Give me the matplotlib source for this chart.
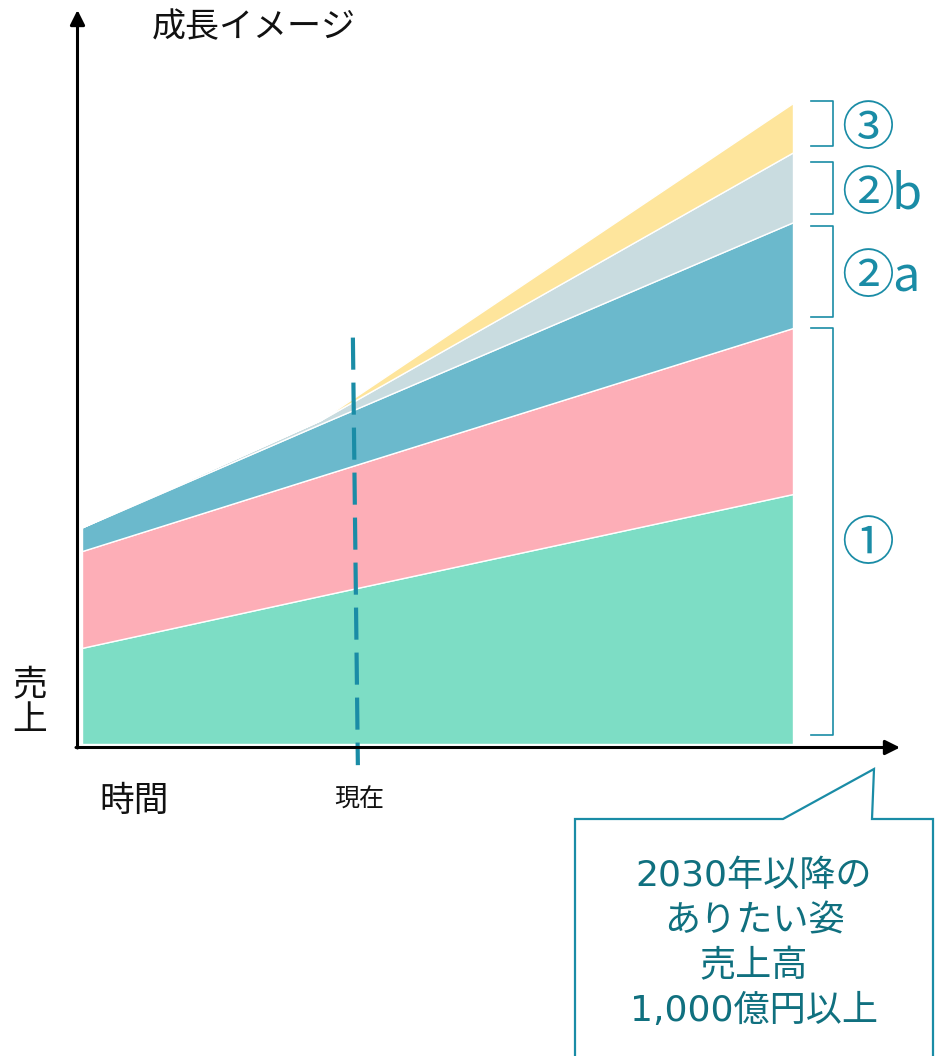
import numpy as np
import matplotlib
matplotlib.use("Agg")
import matplotlib.pyplot as plt
from matplotlib.lines import Line2D
from matplotlib.patches import Polygon

plt.rcParams['font.family'] = ['Noto Sans CJK JP', 'DejaVu Sans']

# time points (arbitrary units) and stacked layers (arbitrary sales units)
t = [0, 3.35, 10]
now = 3.84
layer1 = [150, 231, 390]       # ① green
layer2 = [151, 187, 259]       # ① pink
layer2a = [37, 81, 165]        # ②a blue
layer2b = [0, 6, 109]          # ②b gray
layer3 = [0, 0, 77]            # ③ yellow
layer_colors = ['#7dddc5', '#fdaeb7', '#6bb9cc', '#c9dce0', '#fee59c']

bracket_marks = ['③', '②', '②', '①']
bracket_suffix = ['', 'b', 'a', '']
bracket_spans = [(101, 146), (162, 214), (226, 317), (328, 735)]  # image px
callout_lines = ['2030年以降の', 'ありたい姿', '売上高', '1,000億円以上']

W, H = 935, 1056
teal = '#1a8ca6'
text_teal = '#10707f'

fig = plt.figure(figsize=(W / 100, H / 100), dpi=100)


def fx(x):
    return x / W


def fy(y):
    return 1 - y / H


# axes spans the chart area: x 82..793 px, y 744(bottom)..103(top) px
ax = fig.add_axes([fx(82), fy(744), fx(793) - fx(82), fy(103) - fy(744)])
ax.stackplot(t, layer1, layer2, layer2a, layer2b, layer3,
             colors=layer_colors, edgecolor='white', linewidth=1.0)
ax.set_xlim(0, 10)
ax.set_ylim(0, 1000)
ax.axis('off')

# "now" dashed line
ax.plot([now - 0.03, now + 0.04], [634, -33], color=teal, lw=3,
        dashes=(7.7, 3.1), clip_on=False)

# axes arrows
arrow = dict(arrowstyle='-|>', color='black', lw=2.2, mutation_scale=22,
             shrinkA=0, shrinkB=0)
ax.annotate('', xy=(77.5, H - 10), xytext=(77.5, H - 748),
            xycoords='figure pixels', textcoords='figure pixels', arrowprops=arrow)
ax.annotate('', xy=(900, H - 747.5), xytext=(76, H - 747.5),
            xycoords='figure pixels', textcoords='figure pixels', arrowprops=arrow)

fig.text(fx(152), fy(28), '成長イメージ', fontsize=24.5, color='#111111',
         ha='left', va='center')
fig.text(fx(30), fy(703), '売\n上', fontsize=25, color='#111111',
         ha='center', va='center', linespacing=1.0)
fig.text(fx(134), fy(801), '時間', fontsize=25, color='#111111',
         ha='center', va='center')
fig.text(fx(359), fy(800), '現在', fontsize=18, color='#111111',
         ha='center', va='center')

# brackets and labels
for mark, suf, (y0, y1) in zip(bracket_marks, bracket_suffix, bracket_spans):
    fig.add_artist(Line2D([fx(811), fx(833), fx(833), fx(811)],
                          [fy(y0), fy(y0), fy(y1), fy(y1)],
                          color=teal, lw=1.2))
    yc = (y0 + y1) / 2 if mark != '①' else 538
    fig.text(fx(868), fy(yc), mark, fontsize=38, color=teal,
             ha='center', va='center_baseline')
    if suf:
        fig.text(fx(892), fy(yc + 1), suf, fontsize=35, color=teal,
                 ha='left', va='center_baseline')

# callout box
pts = [(575, 1070), (575, 819), (783, 819), (874, 769), (872, 819),
       (933, 819), (933, 1070)]
fig.add_artist(Polygon([(fx(x), fy(y)) for x, y in pts], closed=True,
                       facecolor='white', edgecolor=teal, lw=1.6))
for i, line in enumerate(callout_lines):
    fig.text(fx(754), fy(876 + i * 45), line, fontsize=26, color=text_teal,
             ha='center', va='center', family=['DejaVu Sans', 'Noto Sans CJK JP'])

fig.savefig('out.png', dpi=100)
